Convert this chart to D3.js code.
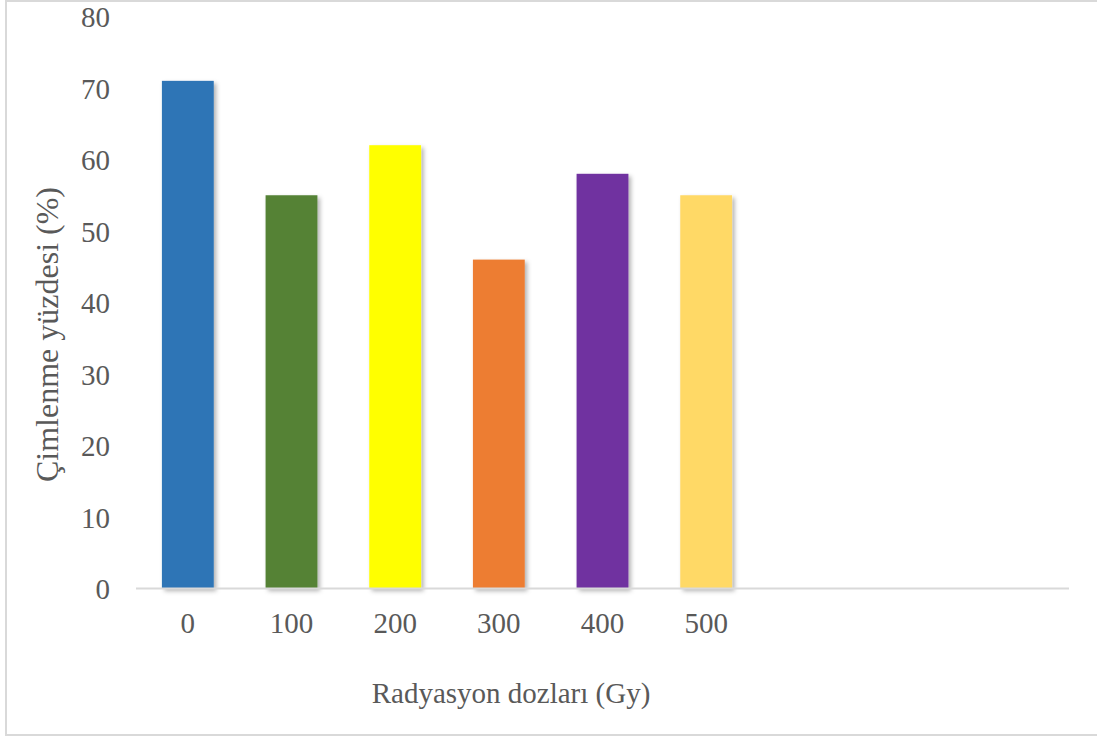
<!DOCTYPE html>
<html>
<head>
<meta charset="utf-8">
<script src="https://cdn.jsdelivr.net/npm/d3@7"></script>
<style>
  html, body { margin: 0; padding: 0; background: #ffffff; }
  svg { display: block; }
  text { font-family: "Liberation Serif", "Times New Roman", serif; fill: #595959; }
</style>
</head>
<body>
<svg id="chart" width="1097" height="737"></svg>
<script>
// Germination percentage by radiation dose
const doses = ["0", "100", "200", "300", "400", "500"];
const germination = [71, 55, 62, 46, 58, 55];
const barColors = ["#2E75B6", "#548235", "#FFFF00", "#ED7D31", "#7030A0", "#FFD966"];
const yTicks = [0, 10, 20, 30, 40, 50, 60, 70, 80];
const slotCount = 9; // the category axis reserves room for nine slots

const svg = d3.select("#chart");
const W = 1097, H = 737;
const plot = { left: 136, right: 1069, top: 16.5, bottom: 588.5 };

// outer frame
svg.append("rect")
  .attr("x", 6).attr("y", 1)
  .attr("width", W + 10).attr("height", 734)
  .attr("fill", "none")
  .attr("stroke", "#d9d9d9")
  .attr("stroke-width", 2);

const defs = svg.append("defs");
const shadow = defs.append("filter")
  .attr("id", "barShadow")
  .attr("x", "-20%").attr("y", "-10%")
  .attr("width", "150%").attr("height", "130%");
shadow.append("feDropShadow")
  .attr("dx", 2.5).attr("dy", 2.5)
  .attr("stdDeviation", 2.2)
  .attr("flood-color", "#000")
  .attr("flood-opacity", 0.3);

const x = d3.scaleBand()
  .domain(d3.range(slotCount))
  .range([plot.left, plot.right])
  .paddingInner(0.5)
  .paddingOuter(0.25);

const y = d3.scaleLinear()
  .domain([0, 80])
  .range([plot.bottom, plot.top]);

// bars
svg.append("g").selectAll("rect")
  .data(germination)
  .join("rect")
  .attr("x", (d, i) => x(i))
  .attr("y", d => y(d))
  .attr("width", x.bandwidth())
  .attr("height", d => y(0) - y(d))
  .attr("fill", (d, i) => barColors[i])
  .attr("filter", "url(#barShadow)");

// category axis line
svg.append("line")
  .attr("x1", plot.left).attr("x2", plot.right)
  .attr("y1", y(0)).attr("y2", y(0))
  .attr("stroke", "#d9d9d9")
  .attr("stroke-width", 2);

// y axis labels
const yAxis = d3.axisLeft(y).tickValues(yTicks).tickSize(0).tickPadding(0);
const yg = svg.append("g")
  .attr("transform", `translate(110,0)`)
  .call(yAxis);
yg.select(".domain").remove();
yg.selectAll("text")
  .attr("font-size", 29)
  .attr("font-family", "Liberation Serif, Times New Roman, serif")
  .attr("fill", "#595959")
  .attr("dy", null)
  .attr("dominant-baseline", "central");

// x axis labels
const xAxis = d3.axisBottom(x)
  .tickValues(d3.range(doses.length))
  .tickFormat(i => doses[i])
  .tickSize(0).tickPadding(0);
const xg = svg.append("g")
  .attr("transform", `translate(0,${y(0)})`)
  .call(xAxis);
xg.select(".domain").remove();
xg.selectAll("text")
  .attr("font-size", 29)
  .attr("font-family", "Liberation Serif, Times New Roman, serif")
  .attr("fill", "#595959")
  .attr("y", 44)
  .attr("dy", null);

// axis titles
svg.append("text")
  .attr("x", 511)
  .attr("y", 703)
  .attr("text-anchor", "middle")
  .attr("font-size", 29)
  .text("Radyasyon dozları (Gy)");

svg.append("text")
  .attr("transform", "translate(58,334.5) rotate(-90)")
  .attr("text-anchor", "middle")
  .attr("font-size", 32)
  .text("Çimlenme yüzdesi (%)");
</script>
</body>
</html>
